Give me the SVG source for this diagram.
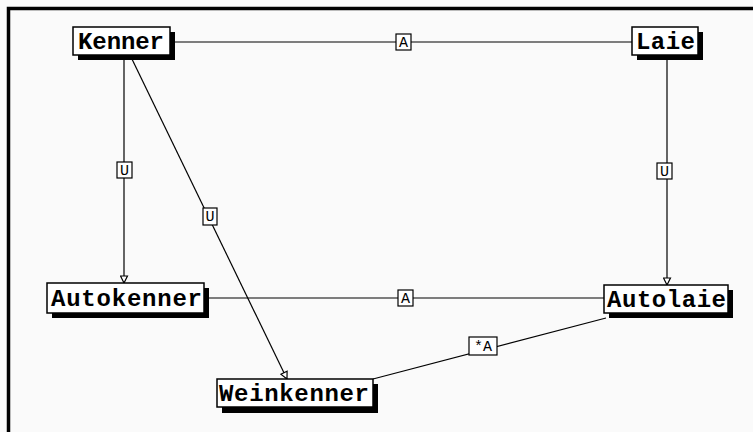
<svg xmlns="http://www.w3.org/2000/svg" width="753" height="432" viewBox="0 0 753 432">
<defs>
<style>
.bg{fill:#fafafa}
.frame{fill:none;stroke:#000;stroke-width:3.5}
.edge{stroke:#000;stroke-width:1.2;fill:none}
.lbl{fill:#fff;stroke:#000;stroke-width:1.2}
.lt{font-family:"Liberation Mono","DejaVu Sans Mono",monospace;font-size:15px;fill:#000;text-anchor:middle}
.shadow{fill:#000}
.box{fill:#fff;stroke:#000;stroke-width:1.5}
.nt{font-family:"Liberation Mono","DejaVu Sans Mono",monospace;font-size:24px;font-weight:bold;fill:#000}
</style>
<marker id="arr" markerUnits="userSpaceOnUse" markerWidth="9" markerHeight="9" viewBox="0 0 9 9" refX="8" refY="4.5" orient="auto">
<path d="M1,1 L8,4.5 L1,8 z" fill="#fff" stroke="#000" stroke-width="1.2"/>
</marker>
</defs>
<rect class="bg" x="0" y="0" width="753" height="432"/>
<path class="frame" d="M8.5,432 L8.5,8.5 L753,8.5"/>
<g id="connectors">
<g id="e-kenner-laie">
<line class="edge" x1="170" y1="42" x2="632" y2="42"/>
<rect class="lbl" x="396" y="34" width="15" height="16"/>
<text class="lt" x="403.5" y="47">A</text>
</g>
<g id="e-kenner-autokenner">
<line class="edge" x1="124" y1="55" x2="124" y2="283" marker-end="url(#arr)"/>
<rect class="lbl" x="117" y="162" width="15" height="16"/>
<text class="lt" x="124.5" y="175">U</text>
</g>
<g id="e-kenner-weinkenner">
<line class="edge" x1="130" y1="55" x2="287" y2="379" marker-end="url(#arr)"/>
<rect class="lbl" x="203" y="208" width="14" height="17"/>
<text class="lt" x="210" y="221">U</text>
</g>
<g id="e-laie-autolaie">
<line class="edge" x1="667" y1="55" x2="667" y2="285" marker-end="url(#arr)"/>
<rect class="lbl" x="657" y="163" width="15" height="16"/>
<text class="lt" x="664.5" y="176">U</text>
</g>
<g id="e-autokenner-autolaie">
<line class="edge" x1="204" y1="298" x2="604" y2="298"/>
<rect class="lbl" x="398" y="290" width="15" height="16"/>
<text class="lt" x="405.5" y="303">A</text>
</g>
<g id="e-autolaie-weinkenner">
<line class="edge" x1="606" y1="318" x2="373" y2="379"/>
<rect class="lbl" x="469" y="337" width="28" height="18"/>
<text class="lt" x="483" y="351">*A</text>
</g>
</g>
<g id="kenner">
<rect class="shadow" x="78" y="32" width="97" height="28"/>
<rect class="box" x="73" y="27" width="97" height="28"/>
<text class="nt" x="78" y="49" textLength="86" lengthAdjust="spacing">Kenner</text>
</g>
<g id="laie">
<rect class="shadow" x="637" y="32" width="66" height="28"/>
<rect class="box" x="632" y="27" width="66" height="28"/>
<text class="nt" x="636" y="49" textLength="59" lengthAdjust="spacing">Laie</text>
</g>
<g id="autokenner">
<rect class="shadow" x="52" y="288" width="157" height="30"/>
<rect class="box" x="47" y="283" width="157" height="30"/>
<text class="nt" x="51" y="306" textLength="151" lengthAdjust="spacing">Autokenner</text>
</g>
<g id="autolaie">
<rect class="shadow" x="609" y="290" width="124" height="28"/>
<rect class="box" x="604" y="285" width="124" height="28"/>
<text class="nt" x="607" y="307" textLength="119" lengthAdjust="spacing">Autolaie</text>
</g>
<g id="weinkenner">
<rect class="shadow" x="222" y="384" width="156" height="29"/>
<rect class="box" x="217" y="379" width="156" height="28"/>
<text class="nt" x="219" y="401" textLength="150" lengthAdjust="spacing">Weinkenner</text>
</g>
</svg>
